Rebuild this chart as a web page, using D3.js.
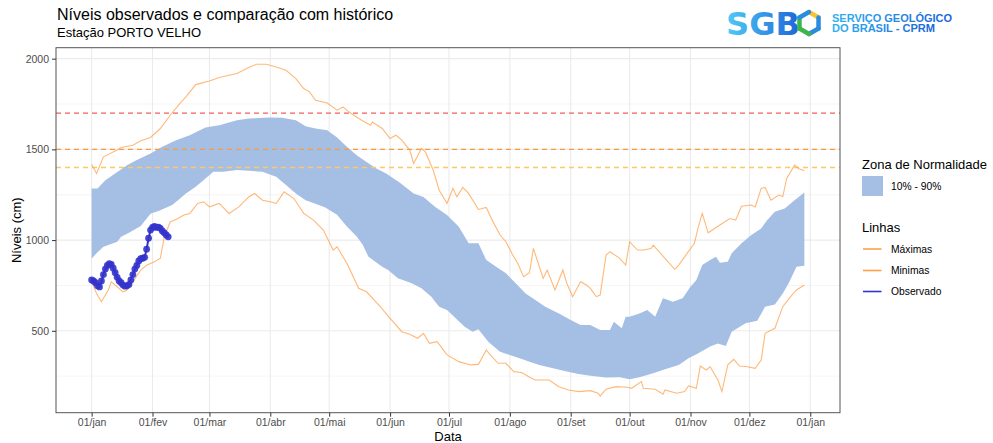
<!DOCTYPE html>
<html>
<head>
<meta charset="utf-8" />
<title>Níveis observados e comparação com histórico</title>
<style>
body { margin: 0; background: #fff; }
text { font-family: "Liberation Sans", Arial, sans-serif; }
</style>
</head>
<body>
<div id="chart"></div>
<script src="https://cdnjs.cloudflare.com/ajax/libs/d3/7.8.5/d3.min.js"></script>
<script>
// values: [day of year, level in cm]
var monthNames = ["jan", "fev", "mar", "abr", "mai", "jun", "jul", "ago", "set", "out", "nov", "dez"];
var yTicks = [500, 1000, 1500, 2000];
var yMinorTicks = [250, 750, 1250, 1750];
var refLines = [1700, 1500, 1400];

var p90 = [[0,1285],[3,1285],[7,1330],[12,1367],[18,1413],[23,1441],[30,1477],[36,1514],[43,1551],[50,1578],[58,1621],[65,1633],[74,1661],[80,1670],[91,1676],[97,1674],[104,1661],[109,1628],[114,1615],[120,1606],[125,1566],[130,1514],[135,1468],[140,1431],[145,1395],[150,1367],[157,1316],[164,1257],[169,1238],[175,1183],[181,1138],[187,1073],[192,982],[197,982],[201,890],[206,853],[211,817],[216,762],[221,706],[226,670],[231,633],[238,596],[244,560],[249,532],[254,532],[259,504],[264,504],[266,550],[270,514],[272,578],[274,578],[279,596],[283,615],[287,578],[291,679],[296,660],[301,679],[305,743],[308,780],[311,862],[315,890],[318,908],[320,875],[324,880],[326,927],[331,982],[336,1028],[341,1064],[344,1110],[348,1156],[353,1174],[358,1220],[363,1262]];

var p10 = [[0,899],[2.5,927],[6,963],[11,982],[13,991],[15,1018],[19,1040],[25,1078],[30,1145],[35,1165],[41,1193],[44,1220],[48,1257],[53,1294],[58,1340],[62,1376],[67,1376],[74,1386],[80,1382],[87,1376],[94,1349],[99,1303],[104,1257],[109,1220],[114,1200],[119,1180],[125,1140],[130,1075],[135,1020],[138,975],[141,908],[148,853],[151,835],[156,789],[163,762],[168,734],[173,688],[177,633],[181,615],[190,523],[194,495],[197,508],[202,440],[208,385],[213,367],[218,349],[223,330],[228,312],[235,293],[242,275],[248,262],[255,251],[262,242],[269,244],[274,233],[279,244],[286,266],[292,288],[299,312],[304,349],[309,376],[315,413],[319,430],[323,416],[326,495],[333,541],[339,555],[343,633],[348,645],[352,706],[355,762],[359,853],[363,858]];

var maximas = [[0,1417],[2.5,1367],[6,1459],[13,1496],[15,1510],[21,1523],[25,1547],[30,1566],[35,1615],[40,1688],[45,1753],[48,1789],[53,1857],[60,1877],[65,1896],[74,1918],[80,1951],[84,1969],[89,1969],[94,1954],[99,1936],[104,1890],[108,1835],[111,1817],[114,1771],[120,1756],[125,1716],[128,1734],[131,1707],[136,1670],[142,1633],[143,1651],[148,1615],[152,1560],[155,1578],[158,1551],[162,1496],[164,1422],[168,1505],[170,1486],[174,1385],[177,1275],[181,1202],[184,1285],[186,1238],[189,1290],[192,1257],[197,1169],[201,1180],[204,1110],[208,1028],[211,991],[214,927],[217,872],[220,798],[223,820],[225,954],[228,853],[230,789],[232,835],[236,725],[240,835],[242,762],[245,688],[249,770],[252,752],[254,734],[257,688],[259,697],[262,917],[264,936],[269,899],[272,862],[274,991],[278,945],[281,945],[285,954],[286,972],[289,936],[292,899],[297,839],[299,862],[303,923],[307,982],[309,1073],[311,1147],[314,1040],[320,1083],[325,1119],[328,1110],[331,1187],[336,1193],[338,1183],[341,1285],[343,1290],[346,1220],[350,1248],[352,1240],[354,1340],[358,1413],[360,1395],[363,1382]];

var minimas = [[0,770],[2.5,706],[5,660],[8.5,725],[10,770],[13,743],[16,715],[18,725],[21,770],[25,835],[28,862],[32,880],[35,900],[37,1018],[40,1100],[44,1119],[47,1138],[50,1147],[54,1202],[57,1211],[60,1183],[65,1202],[70,1147],[75,1183],[80,1238],[83,1257],[87,1220],[91,1211],[94,1202],[98,1266],[103,1229],[108,1147],[113,1110],[118,1055],[121,990],[123,945],[125,963],[130,872],[136,734],[140,715],[147,633],[152,569],[158,495],[162,481],[166,459],[169,486],[172,431],[176,440],[181,367],[187,330],[193,312],[197,315],[201,394],[203,367],[207,321],[211,321],[215,275],[219,270],[224,238],[226,229],[233,229],[238,192],[243,174],[248,165],[254,170],[258,156],[259,140],[262,178],[267,192],[273,189],[275,183],[280,220],[281,183],[287,178],[291,150],[292,174],[298,156],[302,165],[304,196],[308,183],[310,306],[313,284],[315,302],[319,229],[321,165],[324,312],[327,343],[330,306],[334,302],[338,293],[341,339],[343,486],[348,514],[352,633],[356,688],[359,725],[363,752]];

var observado = [780,775,765,748,742,775,810,840,860,870,866,845,820,795,775,765,752,746,748,755,780,810,840,860,885,897,900,905,950,1010,1055,1070,1075,1070,1072,1065,1050,1040,1028,1018];

!(function(){
    "use strict"

    var width = 993, height = 443
    var margin = {top: 47.7, left: 56, right: 153, bottom: 30.3}
    var bandColor = "#A4BEE4"
    var lineColor = "#FFA04A"
    var obsColor = "#3333CC"

    var svg = d3.select("#chart").append("svg")
        .attr("width", width).attr("height", height)

    var base = new Date(2024, 0, 1)
    function toDate(day) { return new Date(base.getTime() + day * 864e5) }

    var obsPts = observado.map(function(v, i) { return [i, v] })
    var allPts = p90.concat(p10, maximas, minimas, obsPts)

    var dayExt = d3.extent(allPts, function(d) { return d[0] })
    var dr = dayExt[1] - dayExt[0]
    var x = d3.scaleTime()
        .domain([toDate(dayExt[0] - dr * 0.05), toDate(dayExt[1] + dr * 0.05)])
        .range([margin.left, width - margin.right])

    var vExt = d3.extent(allPts, function(d) { return d[1] })
    var vr = vExt[1] - vExt[0]
    var y = d3.scaleLinear()
        .domain([vExt[0] - vr * 0.05, vExt[1] + vr * 0.05])
        .range([height - margin.bottom, margin.top])

    var left = margin.left, right = width - margin.right
    var top = margin.top, bottom = height - margin.bottom

    var monthTicks = d3.timeMonth.range(new Date(2024, 0, 1), new Date(2025, 0, 2))

    // grid
    var grid = svg.append("g")
    grid.selectAll(".minor").data(yMinorTicks).enter().append("line")
        .attr("x1", left).attr("x2", right)
        .attr("y1", function(d) { return y(d) }).attr("y2", function(d) { return y(d) })
        .attr("stroke", "#F3F3F3").attr("stroke-width", 0.8)
    grid.selectAll(".major").data(yTicks).enter().append("line")
        .attr("x1", left).attr("x2", right)
        .attr("y1", function(d) { return y(d) }).attr("y2", function(d) { return y(d) })
        .attr("stroke", "#EBEBEB").attr("stroke-width", 1.1)
    grid.selectAll(".vmajor").data(monthTicks).enter().append("line")
        .attr("y1", top).attr("y2", bottom)
        .attr("x1", function(d) { return x(d) }).attr("x2", function(d) { return x(d) })
        .attr("stroke", "#EBEBEB").attr("stroke-width", 1.1)

    var line = d3.line()
        .x(function(d) { return x(toDate(d[0])) })
        .y(function(d) { return y(d[1]) })

    // normal zone 10% - 90%
    svg.append("path")
        .attr("d", line(p90.concat(p10.slice().reverse())) + "Z")
        .attr("fill", bandColor)

    // reference levels
    var refColors = ["#F25F5C", "#FA9A3C", "#FFC766"]
    svg.selectAll(".ref").data(refLines).enter().append("line")
        .attr("x1", left).attr("x2", right)
        .attr("y1", function(d) { return y(d) }).attr("y2", function(d) { return y(d) })
        .attr("stroke", function(d, i) { return refColors[i] })
        .attr("stroke-width", 1.4)
        .attr("stroke-dasharray", "5,4")

    ;[maximas, minimas].forEach(function(s) {
        svg.append("path")
            .attr("d", line(s))
            .attr("fill", "none")
            .attr("stroke", lineColor)
            .attr("stroke-opacity", 0.75)
            .attr("stroke-width", 1.1)
    })

    // observed levels
    svg.append("path")
        .attr("d", line(obsPts))
        .attr("fill", "none")
        .attr("stroke", obsColor)
        .attr("stroke-width", 2)
    svg.selectAll(".obs").data(obsPts).enter().append("circle")
        .attr("cx", function(d) { return x(toDate(d[0])) })
        .attr("cy", function(d) { return y(d[1]) })
        .attr("r", 3.4)
        .attr("fill", obsColor)
        .attr("fill-opacity", 0.9)

    // panel border
    svg.append("rect")
        .attr("x", left).attr("y", top)
        .attr("width", right - left).attr("height", bottom - top)
        .attr("fill", "none").attr("stroke", "#555").attr("stroke-width", 1)

    // axes
    var xAxis = d3.axisBottom(x)
        .tickValues(monthTicks)
        .tickSize(4).tickPadding(2)
        .tickFormat(function(d) { return d3.timeFormat("%d")(d) + "/" + monthNames[d.getMonth()] })
    var gx = svg.append("g").attr("transform", "translate(0," + bottom + ")").call(xAxis)
    var yAxis = d3.axisLeft(y).tickValues(yTicks).tickFormat(d3.format("d")).tickSize(4).tickPadding(3)
    var gy = svg.append("g").attr("transform", "translate(" + left + ",0)").call(yAxis)
    ;[gx, gy].forEach(function(g) {
        g.select(".domain").remove()
        g.selectAll(".tick line").attr("stroke", "#333")
        g.selectAll(".tick text").attr("fill", "#4D4D4D")
            .style("font-size", "10.5px")
            .style("font-family", "'Liberation Sans', Arial, sans-serif")
    })

    svg.append("text").attr("x", (left + right) / 2).attr("y", 441)
        .attr("text-anchor", "middle").style("font-size", "13px").text("Data")
    svg.append("text").attr("transform", "translate(21," + ((top + bottom) / 2) + ") rotate(-90)")
        .attr("text-anchor", "middle").style("font-size", "13px").text("Níveis (cm)")

    // titles
    svg.append("text").attr("x", 57).attr("y", 20)
        .style("font-size", "16px").text("Níveis observados e comparação com histórico")
    svg.append("text").attr("x", 57).attr("y", 37)
        .style("font-size", "13px").text("Estação PORTO VELHO")

    // legend
    var lg = svg.append("g")
    lg.append("text").attr("x", 862).attr("y", 169).style("font-size", "13px").text("Zona de Normalidade")
    lg.append("rect").attr("x", 862).attr("y", 176).attr("width", 21).attr("height", 20).attr("fill", bandColor)
    lg.append("text").attr("x", 891).attr("y", 189.5).style("font-size", "10.3px").text("10% - 90%")
    lg.append("text").attr("x", 862).attr("y", 232).style("font-size", "13px").text("Linhas")
    var keys = [["Máximas", lineColor, 249], ["Minimas", lineColor, 270.5], ["Observado", obsColor, 291.5]]
    keys.forEach(function(k) {
        lg.append("line").attr("x1", 863).attr("x2", 881.5).attr("y1", k[2]).attr("y2", k[2])
            .attr("stroke", k[1]).attr("stroke-width", 1.6)
        lg.append("text").attr("x", 891).attr("y", k[2] + 3.6).style("font-size", "10.3px").text(k[0])
    })

    // logo
    var defs = svg.append("defs")
    var g1 = defs.append("linearGradient").attr("id", "sgbGrad").attr("x1", 0).attr("x2", 1).attr("y1", 0).attr("y2", 0)
    g1.append("stop").attr("offset", "0%").attr("stop-color", "#4FCBF6")
    g1.append("stop").attr("offset", "100%").attr("stop-color", "#1D66D8")
    var g2 = defs.append("linearGradient").attr("id", "txtGrad").attr("x1", 0).attr("x2", 1).attr("y1", 0).attr("y2", 0)
    g2.append("stop").attr("offset", "0%").attr("stop-color", "#2FB2F0")
    g2.append("stop").attr("offset", "100%").attr("stop-color", "#1C63D6")

    var logo = svg.append("g")
    logo.append("text").attr("x", 726).attr("y", 35)
        .attr("textLength", 74).attr("lengthAdjust", "spacingAndGlyphs")
        .style("font-family", "'DejaVu Sans', sans-serif").style("font-weight", "bold")
        .style("font-size", "32px").attr("fill", "url(#sgbGrad)").text("SGB")
    var cx = 809, cy = 23, r = 11
    var hex = d3.range(7).map(function(i) {
        var a = Math.PI / 3 * i - Math.PI / 2
        return [cx + r * Math.cos(a), cy + r * Math.sin(a)]
    })
    var segColors = ["#F7C531", "#2B8BE0", "#2B8BE0", "#3DB54A", "#3DB54A", "#2B8BE0"]
    segColors.forEach(function(c, i) {
        logo.append("line")
            .attr("x1", hex[i][0]).attr("y1", hex[i][1])
            .attr("x2", hex[i + 1][0]).attr("y2", hex[i + 1][1])
            .attr("stroke", c).attr("stroke-width", 4.5).attr("stroke-linecap", "round")
    })
    logo.append("text").attr("x", 832).attr("y", 21.5)
        .attr("textLength", 120).attr("lengthAdjust", "spacingAndGlyphs")
        .style("font-weight", "bold").style("font-size", "10.5px")
        .attr("fill", "url(#txtGrad)").text("SERVIÇO GEOLÓGICO")
    logo.append("text").attr("x", 832).attr("y", 31.7)
        .attr("textLength", 103).attr("lengthAdjust", "spacingAndGlyphs")
        .style("font-weight", "bold").style("font-size", "10.5px")
        .attr("fill", "url(#txtGrad)").text("DO BRASIL - CPRM")
}());
</script>
</body>
</html>
